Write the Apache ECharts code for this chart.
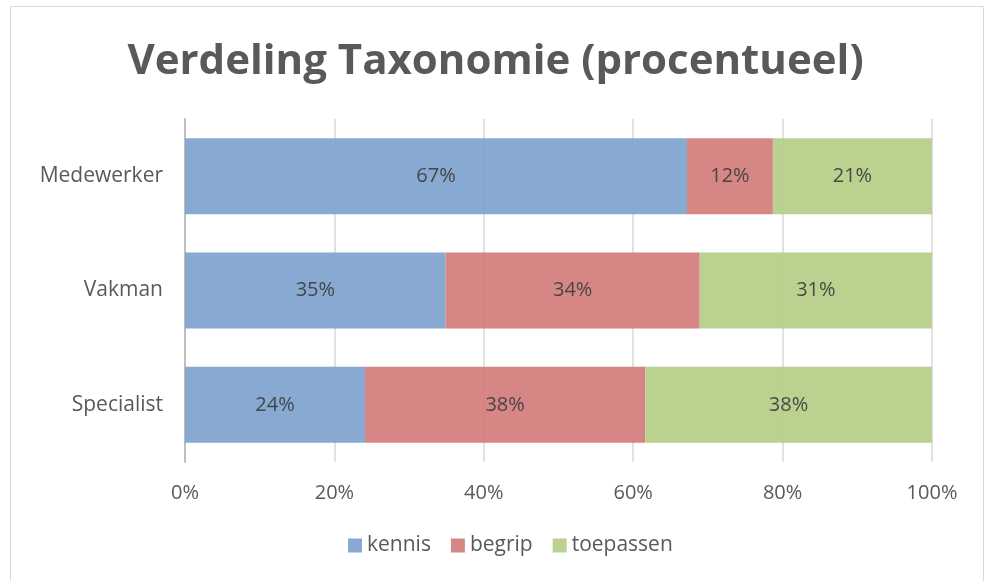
<!DOCTYPE html>
<html><head><meta charset="utf-8">
<script src="https://cdn.jsdelivr.net/npm/echarts@6/dist/echarts.min.js"></script>
<style>html,body{margin:0;padding:0;background:#fff}#c{width:991px;height:581px}</style>
</head><body><div id="c"></div>
<script>
const categories = ['Specialist', 'Vakman', 'Medewerker'];
const kennis = [24.1, 34.9, 67.2];
const begrip = [37.5, 34.0, 11.5];
const toepassen = [38.4, 31.1, 21.3];
const xTicks = [0, 20, 40, 60, 80, 100];

const chart = echarts.init(document.getElementById('c'));
const font = "'Open Sans', 'Noto Sans', sans-serif";
const lbl = {show: true, position: 'inside', color: '#404040', fontSize: 20, fontFamily: font,
  formatter: p => Math.round(p.value) + '%'};
function ser(name, data, color) {
  return {name, type: 'bar', stack: 'a', data, barWidth: 76,
    itemStyle: {color, opacity: 0.93}, label: lbl, emphasis: {disabled: true}};
}
chart.setOption({
  animation: false,
  title: {text: 'Verdeling Taxonomie (procentueel)', left: 'center', top: 36,
    textStyle: {fontSize: 42, fontWeight: 'bold', color: '#595959', fontFamily: font}},
  graphic: [{type: 'rect', shape: {x: 10.5, y: 6.5, width: 973, height: 600},
    style: {fill: 'none', stroke: '#d9d9d9', lineWidth: 1}, silent: true}],
  grid: {left: 185, right: 59, top: 119, height: 343},
  legend: {bottom: 20, left: 343, itemWidth: 14, itemHeight: 14, itemGap: 20,
    icon: 'rect', textStyle: {fontSize: 21, color: '#595959', fontFamily: font},
    data: ['kennis', 'begrip', 'toepassen']},
  xAxis: {type: 'value', min: 0, max: 100, interval: 20,
    axisLabel: {formatter: v => xTicks.includes(v) ? v + '%' : '', fontSize: 20, color: '#595959', margin: 21, fontFamily: font},
    axisLine: {show: false}, axisTick: {show: false},
    splitLine: {show: true, lineStyle: {color: '#d9d9d9', width: 1.5}}},
  yAxis: {type: 'category', data: categories,
    axisLine: {show: true, lineStyle: {color: '#bfbfbf', width: 2}},
    axisTick: {show: false},
    axisLabel: {fontSize: 21, color: '#595959', margin: 22, fontFamily: font}},
  series: [ser('kennis', kennis, '#7ea3cf'), ser('begrip', begrip, '#d37e7c'), ser('toepassen', toepassen, '#b6cd88')]
});
</script></body></html>
